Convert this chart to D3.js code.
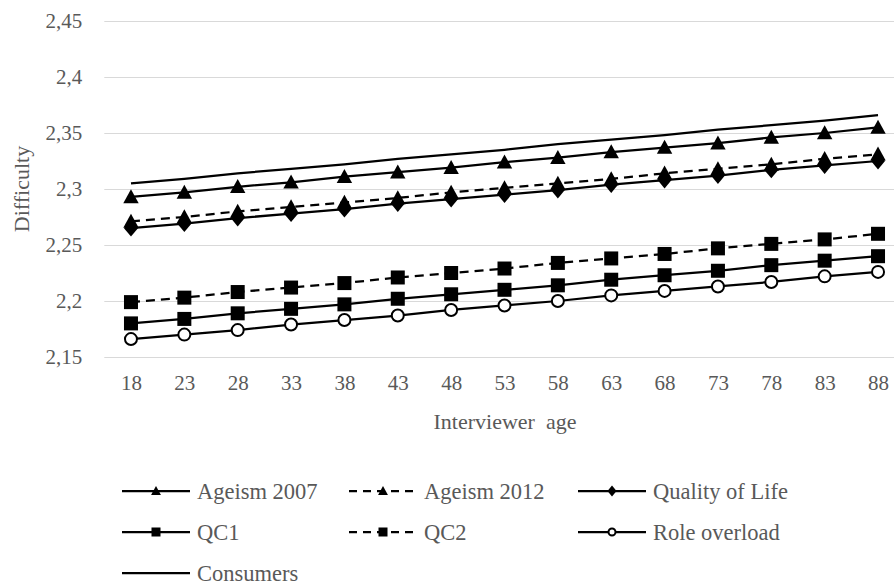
<!DOCTYPE html>
<html>
<head>
<meta charset="utf-8">
<script src="https://cdn.jsdelivr.net/npm/d3@7"></script>
<style>
  body { margin: 0; background: #fff; }
  svg { display: block; font-family: "Liberation Serif", "Times New Roman", serif; }
  .axis-title { fill: #595959; font-size: 22px; white-space: pre; }
  .legend text { fill: #595959; font-size: 22.5px; }
</style>
</head>
<body>
<svg id="chart"></svg>
<script>
// interviewer ages on the x axis
const ages = [18, 23, 28, 33, 38, 43, 48, 53, 58, 63, 68, 73, 78, 83, 88];
const yTicks = [2.15, 2.2, 2.25, 2.3, 2.35, 2.4, 2.45];

// predicted difficulty
const ageism2007 = [2.293, 2.297, 2.302, 2.306, 2.311, 2.315, 2.319, 2.324, 2.328, 2.333, 2.337, 2.341, 2.346, 2.350, 2.355];
const ageism2012 = [2.271, 2.275, 2.280, 2.284, 2.288, 2.292, 2.297, 2.301, 2.305, 2.309, 2.314, 2.318, 2.322, 2.327, 2.331];
const qualityOfLife = [2.265, 2.269, 2.274, 2.278, 2.282, 2.287, 2.291, 2.295, 2.299, 2.304, 2.308, 2.312, 2.317, 2.321, 2.325];
const qc1 = [2.180, 2.184, 2.189, 2.193, 2.197, 2.202, 2.206, 2.210, 2.214, 2.219, 2.223, 2.227, 2.232, 2.236, 2.240];
const qc2 = [2.199, 2.203, 2.208, 2.212, 2.216, 2.221, 2.225, 2.229, 2.234, 2.238, 2.242, 2.247, 2.251, 2.255, 2.260];
const roleOverload = [2.166, 2.170, 2.174, 2.179, 2.183, 2.187, 2.192, 2.196, 2.200, 2.205, 2.209, 2.213, 2.217, 2.222, 2.226];
const consumers = [2.305, 2.309, 2.314, 2.318, 2.322, 2.327, 2.331, 2.335, 2.340, 2.344, 2.348, 2.353, 2.357, 2.361, 2.366];

const series = [
  {name: 'Ageism 2007', values: ageism2007, marker: 'triangle', dashed: false},
  {name: 'Ageism 2012', values: ageism2012, marker: 'triangle', dashed: true},
  {name: 'Quality of Life', values: qualityOfLife, marker: 'diamond', dashed: false},
  {name: 'QC1', values: qc1, marker: 'square', dashed: false},
  {name: 'QC2', values: qc2, marker: 'square', dashed: true},
  {name: 'Role overload', values: roleOverload, marker: 'circle', dashed: false},
  {name: 'Consumers', values: consumers, marker: null, dashed: false}
];

const containerWidth = 894, containerHeight = 585;
const margin = {top: 21, left: 104.3, plotRight: 904.7, bottom: 357};
const width = margin.plotRight - margin.left;
const height = margin.bottom - margin.top;
const serif = '"Liberation Serif", "Times New Roman", serif';

const svg = d3.select('#chart')
    .attr('width', containerWidth)
    .attr('height', containerHeight);

const chart = svg.append('g')
    .attr('transform', `translate(${margin.left},${margin.top})`);

const xScale = d3.scalePoint()
    .domain(ages)
    .range([0, width])
    .padding(0.5);

const yScale = d3.scaleLinear()
    .domain([2.15, 2.45])
    .range([height, 0]);

const fmt = d => String(+d.toFixed(2)).replace('.', ',');

// gridlines
chart.append('g')
    .selectAll('line')
    .data(yTicks)
    .join('line')
      .attr('x1', 0)
      .attr('x2', width)
      .attr('y1', d => Math.round(yScale(d)) + 0.5)
      .attr('y2', d => Math.round(yScale(d)) + 0.5)
      .attr('stroke', '#d9d9d9')
      .attr('stroke-width', 1);

// y axis labels
const yAxis = d3.axisLeft(yScale).tickValues(yTicks).tickFormat(fmt).tickSize(0).tickPadding(22);
const yAxisG = chart.append('g').call(yAxis);

// x axis labels
const xAxis = d3.axisBottom(xScale).tickSize(0).tickPadding(18);
const xAxisG = chart.append('g')
    .attr('transform', `translate(0,${height})`)
    .call(xAxis);

[yAxisG, xAxisG].forEach(g => {
  g.select('.domain').remove();
  g.attr('font-family', serif).attr('font-size', 21);
  g.selectAll('text').attr('fill', '#595959');
});

// axis titles
svg.append('text')
    .attr('class', 'axis-title')
    .attr('x', 505)
    .attr('y', 429)
    .attr('text-anchor', 'middle')
    .text('Interviewer  age');

svg.append('text')
    .attr('class', 'axis-title')
    .attr('transform', 'translate(29,189) rotate(-90)')
    .attr('text-anchor', 'middle')
    .text('Difficulty');

// marker drawing
function drawMarker(sel, type, s) {
  if (type === 'triangle') {
    sel.append('path')
        .attr('d', `M0,${-s * 0.55}L${s * 0.55},${s * 0.45}L${-s * 0.55},${s * 0.45}Z`)
        .attr('fill', '#000');
  } else if (type === 'diamond') {
    sel.append('path')
        .attr('d', `M0,${-s * 0.6}L${s * 0.5},0L0,${s * 0.6}L${-s * 0.5},0Z`)
        .attr('fill', '#000');
  } else if (type === 'square') {
    sel.append('rect')
        .attr('x', -s / 2).attr('y', -s / 2)
        .attr('width', s).attr('height', s)
        .attr('fill', '#000');
  } else if (type === 'circle') {
    sel.append('circle')
        .attr('r', s / 2 - 1)
        .attr('fill', '#fff')
        .attr('stroke', '#000')
        .attr('stroke-width', 2);
  }
}

const line = d3.line()
    .x((d, i) => xScale(ages[i]))
    .y(d => yScale(d));

const seriesG = chart.append('g')
    .selectAll('g')
    .data(series)
    .join('g');

seriesG.append('path')
    .attr('d', d => line(d.values))
    .attr('fill', 'none')
    .attr('stroke', '#000')
    .attr('stroke-width', 2.25)
    .attr('stroke-dasharray', d => d.dashed ? '9,6' : null);

seriesG.each(function(s) {
  if (!s.marker) return;
  d3.select(this).selectAll('g.marker')
      .data(s.values)
      .join('g')
        .attr('class', 'marker')
        .attr('transform', (d, i) => `translate(${xScale(ages[i])},${yScale(d)})`)
        .each(function() { drawMarker(d3.select(this), s.marker, 14); });
});

// legend
const legendCols = [122, 349, 578];
const legendRows = [491, 532, 573];
const legend = svg.append('g').attr('class', 'legend');
series.forEach((s, i) => {
  const g = legend.append('g')
      .attr('transform', `translate(${legendCols[i % 3]},${legendRows[Math.floor(i / 3)]})`);
  g.append('line')
      .attr('x1', 0).attr('x2', 68)
      .attr('stroke', '#000')
      .attr('stroke-width', 2.25)
      .attr('stroke-dasharray', s.dashed ? '8,6' : null);
  if (s.marker) {
    const m = g.append('g').attr('transform', 'translate(34,0)');
    drawMarker(m, s.marker, 9);
  }
  g.append('text')
      .attr('x', 75)
      .attr('dy', '0.35em')
      .text(s.name);
});
</script>
</body>
</html>
